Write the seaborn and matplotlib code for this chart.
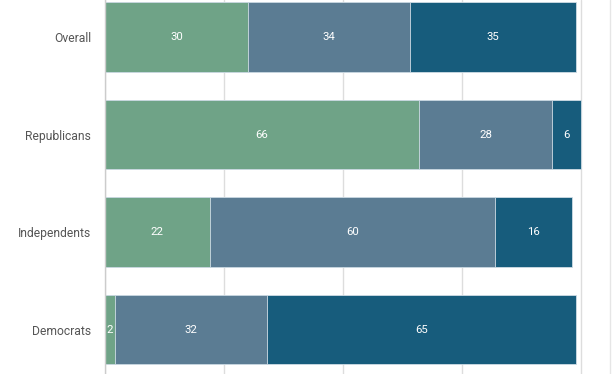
import numpy as np
import pandas as pd
import matplotlib
matplotlib.use('Agg')
import matplotlib.pyplot as plt
import seaborn as sns

# données du graphique
categories = ["Overall", "Republicans", "Independents", "Democrats"]
part1 = [30, 66, 22, 2]
part2 = [34, 28, 60, 32]
part3 = [35, 6, 16, 65]
couleurs = ["#6fa387", "#5b7c93", "#175c7c"]

df = pd.DataFrame({"cat": categories, "p1": part1, "p2": part2, "p3": part3})
df["c1"] = df["p1"]
df["c2"] = df["p1"] + df["p2"]
df["c3"] = df["c2"] + df["p3"]

sns.set_style("white")
plt.rcParams['font.family'] = ['Roboto', 'DejaVu Sans']

fig = plt.figure(figsize=(6.12, 3.74), dpi=100)
ax = fig.add_axes([105 / 612, 0, 1 - 105 / 612, 1])

# barres empilées : on dessine les totaux cumulés du plus grand au plus petit
for col, c in zip(["c3", "c2", "c1"], couleurs[::-1]):
    sns.barplot(data=df, x=col, y="cat", orient="h", color=c, width=0.71,
                edgecolor="#cfdce5", linewidth=0.6, saturation=1, ax=ax, zorder=2)

# étiquettes des valeurs
for i in range(len(df)):
    starts = [0, df["c1"][i], df["c2"][i]]
    for s, v in zip(starts, [df["p1"][i], df["p2"][i], df["p3"][i]]):
        ax.text(s + v / 2, i, str(v), ha="center", va="center",
                color="white", fontsize=8.2, zorder=3)

ax.set_xlim(0, 106.5)
ax.set_ylim(3.456, -0.38)
ax.set_xticks([0, 25, 50, 75, 100])
ax.xaxis.grid(True, color="#dddddd", linewidth=1, zorder=0)
ax.set_axisbelow(True)
ax.tick_params(axis="y", length=0, pad=10, labelsize=8.7, labelcolor="#555555")
ax.tick_params(axis="x", length=0, labelbottom=False)
ax.set_xlabel("")
ax.set_ylabel("")
for s in ["top", "right", "bottom"]:
    ax.spines[s].set_visible(False)
ax.spines["left"].set_color("#cccccc")
ax.spines["left"].set_linewidth(1)

# bordure fine à droite
fig.add_artist(plt.Line2D([610 / 612, 610 / 612], [0, 1], color="#e6e6e6", linewidth=1))

plt.savefig("out.png", dpi=100)
plt.close()
